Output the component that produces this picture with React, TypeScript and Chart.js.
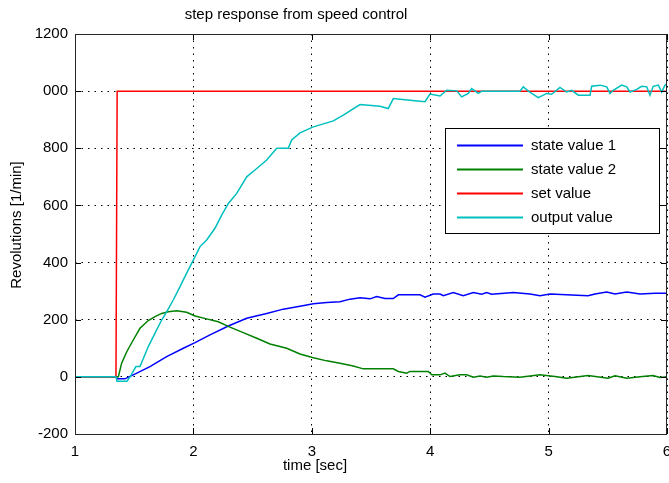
import React, { useEffect, useRef } from "react";
import { Chart, registerables } from "chart.js";

Chart.register(...registerables);

// ---------- data ----------
const chartTitle = "step response from speed control";
const xAxisTitle = "time [sec]";
const yAxisTitle = "Revolutions [1/min]";

const xTickValues = [1, 2, 3, 4, 5, 6];
const xTickLabels = ["1", "2", "3", "4", "5", "6"];
const yTickValues = [-200, 0, 200, 400, 600, 800, 1000, 1200];
const yTickLabels = ["-200", "0", "200", "400", "600", "800", "000", "1200"];

const seriesNames = ["state value 1", "state value 2", "set value", "output value"];
const seriesColors = ["#0000ff", "#008000", "#ff0000", "#00bfbf"];

const state1Time = [1.0, 1.35, 1.355, 1.422, 1.492, 1.633, 1.774, 1.915, 2.014, 2.14, 2.295, 2.45, 2.619, 2.759, 2.9, 3.013, 3.126, 3.238, 3.323, 3.407, 3.492, 3.548, 3.618, 3.688, 3.731, 3.914, 3.956, 4.026, 4.083, 4.111, 4.195, 4.279, 4.364, 4.435, 4.477, 4.519, 4.702, 4.843, 4.927, 5.012, 5.333, 5.392, 5.491, 5.561, 5.66, 5.772, 5.899, 6.0];
const state1Values = [0, 0, -7, -7, 7, 36, 71, 100, 120, 147, 178, 205, 222, 237, 247, 256, 260, 263, 272, 277, 273, 281, 274, 274, 287, 287, 279, 290, 290, 284, 295, 284, 295, 289, 295, 289, 295, 290, 284, 290, 284, 290, 297, 290, 297, 290, 293, 293];

const state2Time = [1.0, 1.35, 1.366, 1.394, 1.437, 1.492, 1.549, 1.619, 1.676, 1.732, 1.788, 1.859, 1.943, 2.014, 2.112, 2.21, 2.309, 2.421, 2.535, 2.647, 2.788, 2.9, 3.013, 3.126, 3.238, 3.35, 3.435, 3.688, 3.731, 3.801, 3.829, 3.984, 4.013, 4.083, 4.125, 4.167, 4.252, 4.308, 4.364, 4.421, 4.477, 4.533, 4.617, 4.758, 4.927, 5.054, 5.153, 5.333, 5.502, 5.561, 5.66, 5.772, 5.882, 5.941, 6.0];
const state2Values = [0, 0, 0, 48, 88, 129, 170, 197, 211, 222, 228, 231, 226, 213, 203, 193, 174, 155, 135, 115, 100, 80, 67, 56, 48, 38, 28, 28, 19, 13, 19, 19, 7, 7, 13, 1, 7, 7, -1, 3, -1, 3, 1, -1, 7, 1, -5, 5, -5, 4, -5, 0, 5, -2, 0];

const setTime = [1.0, 1.346, 1.356, 6.0];
const setValues = [0, 0, 1000, 1000];

const outputTime = [1.0, 1.346, 1.355, 1.439, 1.465, 1.515, 1.549, 1.619, 1.676, 1.732, 1.775, 1.83, 1.887, 1.943, 2.014, 2.056, 2.112, 2.182, 2.239, 2.295, 2.366, 2.45, 2.52, 2.619, 2.704, 2.801, 2.83, 2.9, 3.013, 3.182, 3.266, 3.407, 3.576, 3.646, 3.688, 3.829, 3.956, 3.998, 4.083, 4.139, 4.224, 4.266, 4.322, 4.35, 4.406, 4.435, 4.758, 4.786, 4.829, 4.871, 4.913, 4.984, 5.026, 5.096, 5.153, 5.195, 5.251, 5.35, 5.364, 5.434, 5.491, 5.519, 5.546, 5.617, 5.66, 5.688, 5.744, 5.786, 5.829, 5.856, 5.884, 5.927, 5.955, 5.983, 6.0];
const outputValues = [0, 0, -15, -15, 0, 36, 36, 106, 153, 199, 228, 269, 316, 363, 421, 456, 479, 520, 566, 607, 642, 700, 724, 759, 800, 800, 829, 854, 875, 896, 916, 953, 947, 939, 974, 968, 963, 990, 983, 1003, 1001, 980, 992, 1009, 992, 1000, 1000, 1015, 1000, 989, 977, 992, 989, 1013, 997, 1003, 986, 986, 1017, 1021, 1015, 992, 1003, 1021, 1015, 997, 1006, 1017, 1015, 986, 1017, 1021, 997, 1021, 1024];

const toPoints = (t: number[], v: number[]) => t.map((x, i) => ({ x, y: v[i] }));

const FONT = "'Liberation Sans', Arial, Helvetica, sans-serif";
const W = 669;
const H = 483;

const decorPlugin = {
  id: "decor",
  afterDraw(chart: any) {
    const { ctx, chartArea } = chart;
    const { left, right, top, bottom } = chartArea;
    const xs = chart.scales.x;
    const ys = chart.scales.y;
    ctx.save();
    // inward tick marks
    ctx.strokeStyle = "#000";
    ctx.lineWidth = 1;
    ctx.beginPath();
    const tl = 6;
    xTickValues.forEach((v) => {
      const px = Math.round(xs.getPixelForValue(v)) + 0.5;
      ctx.moveTo(px, bottom);
      ctx.lineTo(px, bottom - tl);
      ctx.moveTo(px, top);
      ctx.lineTo(px, top + tl);
    });
    yTickValues.forEach((v) => {
      const py = Math.round(ys.getPixelForValue(v)) + 0.5;
      ctx.moveTo(left, py);
      ctx.lineTo(left + tl, py);
      ctx.moveTo(right, py);
      ctx.lineTo(right - tl, py);
    });
    ctx.stroke();
    // box
    ctx.strokeStyle = "#262626";
    ctx.lineWidth = 1;
    ctx.strokeRect(Math.round(left) + 0.5, Math.round(top) + 0.5, Math.round(right - left) - 1, Math.round(bottom - top));

    // legend
    const lx = 445.5, ly = 128.5, lw = 214, lh = 105;
    ctx.fillStyle = "#fff";
    ctx.fillRect(lx, ly, lw, lh);
    ctx.strokeStyle = "#000";
    ctx.strokeRect(lx, ly, lw, lh);
    ctx.font = `15px ${FONT}`;
    ctx.textBaseline = "middle";
    ctx.textAlign = "left";
    chart.data.datasets.forEach((ds: any, i: number) => {
      const y = 145.5 + i * 24;
      ctx.strokeStyle = ds.borderColor;
      ctx.lineWidth = 2;
      ctx.beginPath();
      ctx.moveTo(457, y);
      ctx.lineTo(523, y);
      ctx.stroke();
      ctx.fillStyle = "#000";
      ctx.fillText(ds.label, 531, y);
    });

    // titles
    ctx.fillStyle = "#000";
    ctx.font = `15px ${FONT}`;
    ctx.textAlign = "center";
    ctx.textBaseline = "middle";
    ctx.fillText(chartTitle, 296, 15);
    ctx.fillText(xAxisTitle, 315, 466);
    ctx.translate(17, 225);
    ctx.rotate(-Math.PI / 2);
    ctx.fillText(yAxisTitle, 0, 0);
    ctx.restore();
  },
};

export default function App() {
  const ref = useRef<HTMLCanvasElement>(null);
  useEffect(() => {
    const canvas = ref.current;
    if (!canvas) return;
    const series = [
      toPoints(state1Time, state1Values),
      toPoints(state2Time, state2Values),
      toPoints(setTime, setValues),
      toPoints(outputTime, outputValues),
    ];
    const chart = new Chart(canvas, {
      type: "line",
      data: {
        datasets: series.map((data, i) => ({
          label: seriesNames[i],
          data,
          borderColor: seriesColors[i],
          backgroundColor: seriesColors[i],
          borderWidth: 1.5,
          pointRadius: 0,
          tension: 0,
          fill: false,
          order: 4 - i,
        })),
      },
      options: {
        responsive: false,
        animation: false,
        events: [],
        parsing: false,
        layout: { padding: { left: 0, top: 34, right: 2, bottom: 0 } },
        plugins: {
          legend: { display: false },
          tooltip: { enabled: false },
          title: { display: false },
        },
        scales: {
          x: {
            type: "linear",
            min: 1,
            max: 6,
            afterBuildTicks: (s: any) => {
              s.ticks = xTickValues.map((value) => ({ value }));
            },
            ticks: {
              autoSkip: false,
              maxRotation: 0,
              padding: 9,
              color: "#000",
              font: { family: FONT, size: 15 },
              callback: (v: any) => xTickLabels[xTickValues.indexOf(Number(v))] ?? "",
            },
            grid: { color: "#000", lineWidth: 1, drawTicks: false },
            border: { display: false, dash: [1.5, 5] },
            afterFit: (s: any) => {
              s.height = 49;
              s.paddingLeft = 0;
              s.paddingRight = 0;
            },
          },
          y: {
            type: "linear",
            min: -200,
            max: 1200,
            afterBuildTicks: (s: any) => {
              s.ticks = yTickValues.map((value) => ({ value }));
            },
            ticks: {
              autoSkip: false,
              padding: 7,
              color: "#000",
              font: { family: FONT, size: 15 },
              callback: (v: any) => yTickLabels[yTickValues.indexOf(Number(v))] ?? "",
            },
            grid: { color: "#000", lineWidth: 1, drawTicks: false },
            border: { display: false, dash: [1.5, 5] },
            afterFit: (s: any) => {
              s.width = 75;
              s.paddingTop = 0;
              s.paddingBottom = 0;
            },
          },
        },
      },
      plugins: [decorPlugin],
    } as any);
    return () => chart.destroy();
  }, []);
  return (
    <div style={{ position: "fixed", left: 0, top: 0, width: W, height: H, background: "#fff" }}>
      <canvas ref={ref} width={W} height={H} style={{ width: W, height: H, display: "block" }} />
    </div>
  );
}
